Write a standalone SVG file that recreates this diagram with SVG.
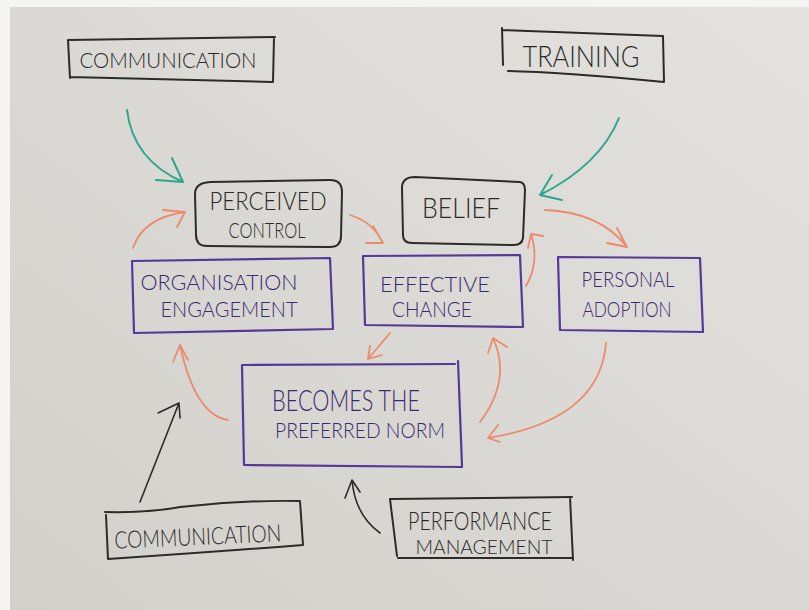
<svg xmlns="http://www.w3.org/2000/svg" width="809" height="610" viewBox="0 0 809 610">
<defs>
<linearGradient id="board" x1="1" y1="0" x2="0" y2="1">
<stop offset="0" stop-color="#e3e2de"/>
<stop offset="1" stop-color="#d2d0cb"/>
</linearGradient>
</defs>
<style>
.blk{fill:none;stroke:#2c2b28;stroke-width:2;stroke-linecap:round;stroke-linejoin:round}
.pur{fill:none;stroke:#55399a;stroke-width:2.2;stroke-linecap:round;stroke-linejoin:round}
.org{fill:none;stroke:#ec8a6c;stroke-width:1.8;stroke-linecap:round;stroke-linejoin:round}
.teal{fill:none;stroke:#2ea68c;stroke-width:2;stroke-linecap:round;stroke-linejoin:round}
.arr{fill:none;stroke:#2c2b28;stroke-width:1.6;stroke-linecap:round;stroke-linejoin:round}
text{font-family:Lato,"Liberation Sans",Arial,sans-serif;font-weight:300;text-anchor:middle}
.tb{fill:#2a2927}
.tp{fill:#3a2a72}
</style>
<rect x="0" y="0" width="809" height="610" fill="#f4f4f2"/>
<rect x="10" y="7" width="799" height="603" fill="url(#board)"/>

<g id="communication-top">
<path class="blk" d="M68,40 L275,37 M274,38 L273,82 M70,77 L272,82 M68,40 L70,78"/>
<text class="tb" x="168" y="68" font-size="21" textLength="177" lengthAdjust="spacingAndGlyphs">COMMUNICATION</text>
</g>

<g id="training">
<path class="blk" d="M502,28 L503,65 M502,30 L663,36 M663,36 L664,82 M508,71 Q560,72 664,82"/>
<text class="tb" x="581" y="67" font-size="29" textLength="117" lengthAdjust="spacingAndGlyphs">TRAINING</text>
</g>

<g id="perceived-control">
<path class="blk" d="M210,182 L330,180 Q342,180 342,192 L341,236 Q341,247 330,247 L207,246 Q196,246 196,235 L195,194 Q195,183 210,182 Z"/>
<text class="tb" x="268" y="210" font-size="25" textLength="117" lengthAdjust="spacingAndGlyphs">PERCEIVED</text>
<text class="tb" x="267" y="238" font-size="22" textLength="77" lengthAdjust="spacingAndGlyphs">CONTROL</text>
</g>

<g id="belief">
<path class="blk" d="M415,177 L520,182 Q525,183 525,190 L523,238 Q522,245 514,245 L412,243 Q403,243 403,235 L402,188 Q402,177 415,177 Z"/>
<text class="tb" x="461" y="218" font-size="28" textLength="78" lengthAdjust="spacingAndGlyphs">BELIEF</text>
</g>

<g id="organisation-engagement">
<path class="pur" d="M132,261 L330,258 L333,329 L134,333 Z"/>
<text class="tp" x="219" y="290" font-size="21" textLength="157" lengthAdjust="spacingAndGlyphs">ORGANISATION</text>
<text class="tp" x="229" y="317" font-size="21" textLength="137" lengthAdjust="spacingAndGlyphs">ENGAGEMENT</text>
</g>

<g id="effective-change">
<path class="pur" d="M363,256 L520,255 L523,327 L365,325 Z"/>
<text class="tp" x="435" y="292" font-size="22" textLength="110" lengthAdjust="spacingAndGlyphs">EFFECTIVE</text>
<text class="tp" x="432" y="317" font-size="21" textLength="80" lengthAdjust="spacingAndGlyphs">CHANGE</text>
</g>

<g id="personal-adoption">
<path class="pur" d="M558,257 L700,258 L703,332 L560,330 Z"/>
<text class="tp" x="628" y="287" font-size="22" textLength="93" lengthAdjust="spacingAndGlyphs">PERSONAL</text>
<text class="tp" x="627" y="317" font-size="21" textLength="89" lengthAdjust="spacingAndGlyphs">ADOPTION</text>
</g>

<g id="becomes-preferred-norm">
<path class="pur" d="M242,365 L455,364 M458,361 L462,466 M245,465 L462,467 M242,365 L244,465"/>
<text class="tp" x="346" y="411" font-size="29" textLength="148" lengthAdjust="spacingAndGlyphs">BECOMES THE</text>
<text class="tp" x="360" y="438" font-size="21" textLength="170" lengthAdjust="spacingAndGlyphs">PREFERRED NORM</text>
</g>

<g id="communication-bottom">
<path class="blk" d="M105,512 Q150,513 180,507 Q240,500 300,501 M300,501 L303,545 M108,559 Q200,553 303,545 M106,515 L108,559"/>
<text class="tb" x="198" y="545" font-size="24" textLength="167" lengthAdjust="spacingAndGlyphs" transform="rotate(-2.5 198 540)">COMMUNICATION</text>
</g>

<g id="performance-management">
<path class="blk" d="M390,499 L572,497 M390,499 L397,556 M398,558 L573,558 M570,497 L573,560"/>
<text class="tb" x="480" y="530" font-size="25" textLength="144" lengthAdjust="spacingAndGlyphs">PERFORMANCE</text>
<text class="tb" x="484" y="554" font-size="19" textLength="137" lengthAdjust="spacingAndGlyphs">MANAGEMENT</text>
</g>

<g id="connectors">
<path class="teal" d="M127,110 Q133,160 183,182 M172,158 L183,182 L156,180"/>
<path class="teal" d="M619,118 Q600,165 540,195 M552,175 L540,195 L562,200"/>
<path class="org" d="M133,248 Q143,218 185,212 M163,210 L185,212 L177,227"/>
<path class="org" d="M350,215 Q373,222 383,243 M373,226 L383,243 L366,243"/>
<path class="org" d="M526,286 Q540,262 531,234 M528,248 L531,234 L543,236"/>
<path class="org" d="M545,210 Q600,212 627,247 M617,228 L627,247 L607,243"/>
<path class="org" d="M390,333 L368,359 M370,346 L368,359 L382,355"/>
<path class="org" d="M228,420 Q195,415 180,345 M173,362 L180,345 L188,360"/>
<path class="org" d="M480,422 Q512,380 493,338 M488,353 L493,338 L507,347"/>
<path class="org" d="M606,343 Q600,420 488,438 M498,425 L488,438 L500,442"/>
<path class="arr" d="M140,502 L179,403 M158,413 L179,403 L180,418"/>
<path class="arr" d="M380,533 Q355,515 352,480 M345,498 L352,480 L360,492"/>
</g>
</svg>
